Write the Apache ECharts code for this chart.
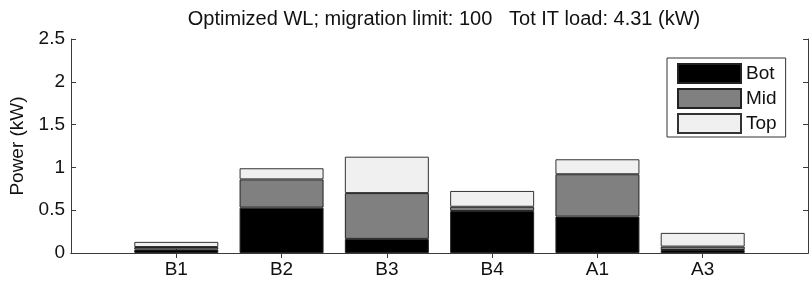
<!DOCTYPE html>
<html>
<head>
<meta charset="utf-8">
<script src="https://cdn.jsdelivr.net/npm/echarts@6/dist/echarts.min.js"></script>
<style>
  html, body { margin: 0; padding: 0; background: #fff; }
  #main { width: 812px; height: 281px; }
</style>
</head>
<body>
<div id="main"></div>
<script>
// racks, in plot order
var categories = ['B1', 'B2', 'B3', 'B4', 'A1', 'A3'];
// power per level (kW)
var botVals = [0.04, 0.53, 0.165, 0.49, 0.425, 0.035];
var midVals = [0.03, 0.33, 0.535, 0.05, 0.495, 0.04];
var topVals = [0.06, 0.13, 0.425, 0.185, 0.175, 0.16];
var yTicks = [0, 0.5, 1, 1.5, 2, 2.5];

// x axis runs 0..7 like the matlab one, racks sit on 1..6
var xSlots = [''].concat(categories, ['']);
function pad(vals) {
    return [null].concat(vals, [null]);
}

var font = 'Liberation Sans, Arial, sans-serif';
var frame = '#3a3a3a';
var fs = 19;

var myChart = echarts.init(document.getElementById('main'));

var option = {
    animation: false,
    title: {
        text: 'Optimized WL; migration limit: 100   Tot IT load: 4.31 (kW)',
        left: 439,
        textAlign: 'center',
        top: 4,
        textStyle: { fontFamily: font, fontSize: 20, fontWeight: 'normal', color: '#111' }
    },
    legend: {
        orient: 'vertical',
        left: 667,
        top: 58,
        icon: 'rect',
        itemWidth: 63,
        itemHeight: 19,
        itemGap: 4,
        padding: [5, 9, 3, 10],
        borderColor: '#333',
        borderWidth: 1,
        borderRadius: 0,
        backgroundColor: '#fff',
        textStyle: { fontFamily: font, fontSize: fs, color: '#111' },
        data: ['Bot', 'Mid', 'Top']
    },
    grid: { left: 71, right: 4, top: 39, bottom: 28, containLabel: false },
    xAxis: [
        {
            type: 'category', data: xSlots, boundaryGap: false,
            axisLine: { show: true, lineStyle: { color: frame } },
            axisTick: {
                show: true, inside: true, length: 5, lineStyle: { color: frame },
                interval: function (i) { return i > 0 && i < xSlots.length - 1; }
            },
            splitLine: { show: false },
            axisLabel: { fontFamily: font, fontSize: fs, color: '#111', margin: 7, interval: 0 }
        },
        {
            type: 'category', data: xSlots, boundaryGap: false, position: 'top',
            axisLine: { show: true, lineStyle: { color: frame } },
            axisTick: {
                show: true, inside: true, length: 5, lineStyle: { color: frame },
                interval: function (i) { return i > 0 && i < xSlots.length - 1; }
            },
            splitLine: { show: false },
            axisLabel: { show: false }
        }
    ],
    yAxis: [
        {
            type: 'value', min: yTicks[0], max: yTicks[yTicks.length - 1], interval: 0.5,
            name: 'Power (kW)', nameLocation: 'middle', nameGap: 44, nameRotate: 90,
            nameTextStyle: { fontFamily: font, fontSize: fs, color: '#111' },
            axisLine: { show: true, lineStyle: { color: frame } },
            axisTick: { show: true, inside: true, length: 5, lineStyle: { color: frame } },
            splitLine: { show: false },
            axisLabel: { fontFamily: font, fontSize: fs, color: '#111', margin: 6 }
        },
        {
            type: 'value', min: 0, max: 2.5, interval: 0.5, position: 'right',
            axisLine: { show: true, lineStyle: { color: frame } },
            axisTick: { show: true, inside: true, length: 5, lineStyle: { color: frame } },
            splitLine: { show: false },
            axisLabel: { show: false }
        }
    ],
    series: [
        {
            name: 'Bot', type: 'bar', stack: 'p', barWidth: 84,
            itemStyle: { color: '#000000', borderColor: '#222', borderWidth: 1 },
            data: pad(botVals)
        },
        {
            name: 'Mid', type: 'bar', stack: 'p', barWidth: 84,
            itemStyle: { color: '#808080', borderColor: '#222', borderWidth: 1 },
            data: pad(midVals)
        },
        {
            name: 'Top', type: 'bar', stack: 'p', barWidth: 84,
            itemStyle: { color: '#f0f0f0', borderColor: '#333', borderWidth: 1 },
            data: pad(topVals)
        }
    ]
};

myChart.setOption(option);
</script>
</body>
</html>
